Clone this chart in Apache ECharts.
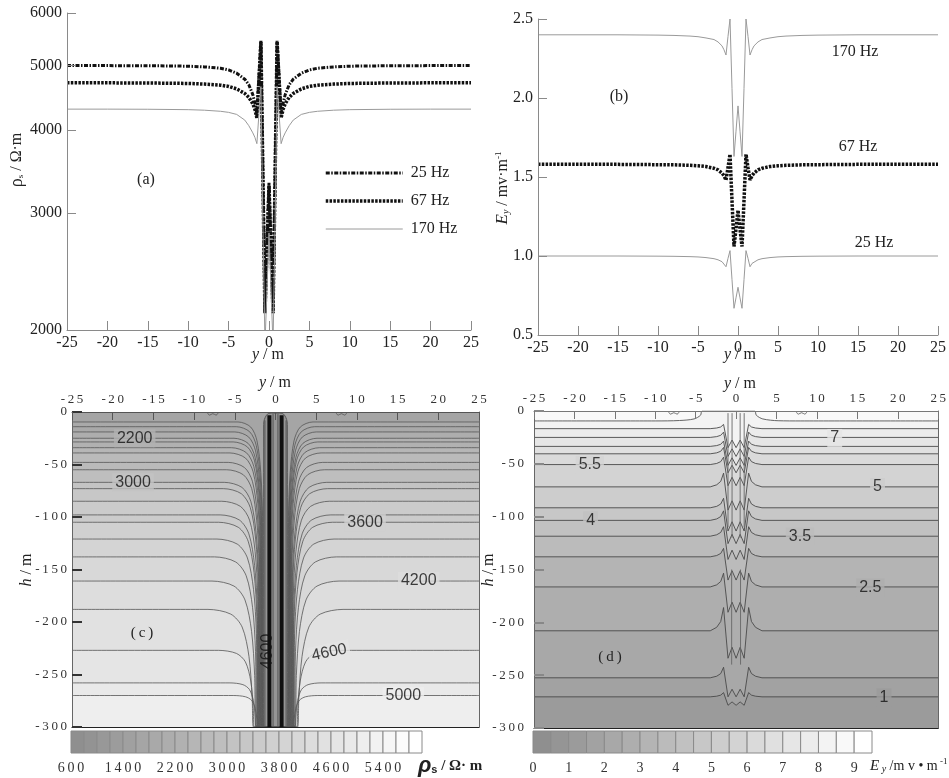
<!DOCTYPE html>
<html>
<head>
    <meta charset="utf-8">
    <title>Apparent resistivity and Ey</title>
    <script src="https://cdn.jsdelivr.net/npm/echarts@6.0.0/dist/echarts.min.js"></script>
    <style>
        body { margin: 0; background: #fff; }
        #main { width: 949px; height: 778px; }
    </style>
</head>
<body>
    <div id="main"></div>
<script type="text/javascript">
    var SERIF = "'Liberation Serif', 'DejaVu Serif', serif";
    var SANS = "'Liberation Sans', 'DejaVu Sans', sans-serif";

    // (a)/(b) surface profiles along y (m)
    var yProfile = [-25, -20, -15, -10, -8, -6, -5, -4, -3, -2.5, -2, -1.75, -1.5, -1.25, -1, -0.75, -0.5, -0.25, 0,
        0.25, 0.5, 0.75, 1, 1.25, 1.5, 1.75, 2, 2.5, 3, 4, 5, 6, 8, 10, 15, 20, 25];
    var rho25 = [5000, 5000, 4998, 4990, 4978, 4955, 4925, 4870, 4770, 4680, 4520, 4390, 4230, 4800, 5450, 3400, 2130, 2660, 3330,
        2660, 2130, 3400, 5450, 4800, 4230, 4390, 4520, 4680, 4770, 4870, 4925, 4955, 4978, 4990, 4998, 5000, 5000];
    var rho67 = [4710, 4710, 4708, 4700, 4690, 4672, 4652, 4612, 4540, 4480, 4380, 4300, 4170, 4750, 5430, 3380, 2120, 2650, 3300,
        2650, 2120, 3380, 5430, 4750, 4170, 4300, 4380, 4480, 4540, 4612, 4652, 4672, 4690, 4700, 4708, 4710, 4710];
    var rho170 = [4300, 4300, 4298, 4292, 4284, 4268, 4252, 4222, 4140, 4060, 3960, 3900, 3815, 4220, 4650, 2850, 1900, 2300, 2800,
        2300, 1900, 2850, 4650, 4220, 3815, 3900, 3960, 4060, 4140, 4222, 4252, 4268, 4284, 4292, 4298, 4300, 4300];
    var ey170 = [2.40, 2.40, 2.40, 2.398, 2.396, 2.392, 2.388, 2.38, 2.37, 2.355, 2.33, 2.305, 2.272, 2.39, 2.50, 2.06, 1.63, 1.79, 1.95,
        1.79, 1.63, 2.06, 2.50, 2.39, 2.272, 2.305, 2.33, 2.355, 2.37, 2.38, 2.388, 2.392, 2.396, 2.398, 2.40, 2.40, 2.40];
    var ey67 = [1.58, 1.58, 1.58, 1.578, 1.577, 1.574, 1.571, 1.566, 1.555, 1.545, 1.525, 1.508, 1.481, 1.56, 1.644, 1.35, 1.06, 1.17, 1.29,
        1.17, 1.06, 1.35, 1.644, 1.56, 1.481, 1.508, 1.525, 1.545, 1.555, 1.566, 1.571, 1.574, 1.577, 1.578, 1.58, 1.58, 1.58];
    var ey25 = [1.0, 1.0, 1.0, 0.999, 0.998, 0.996, 0.994, 0.99, 0.983, 0.976, 0.964, 0.953, 0.932, 0.985, 1.034, 0.85, 0.669, 0.735, 0.802,
        0.735, 0.669, 0.85, 1.034, 0.985, 0.932, 0.953, 0.964, 0.976, 0.983, 0.99, 0.994, 0.996, 0.998, 0.999, 1.0, 1.0, 1.0];
    var rhoTicks = [2000, 3000, 4000, 5000, 6000];

    // (c) rho_s section: far-field depth of each contour, its level, where it starts to bend, where it meets the bottom
    var depthsC = [-9.5, -14, -19, -25, -28.5, -34, -39, -48, -55, -67, -73, -85, -98, -105, -121, -138, -161, -188, -227, -258, -270];
    var levelsC = [1800, 1900, 2000, 2200, 2300, 2400, 2500, 2700, 2800, 3000, 3100, 3300, 3500, 3600, 3800, 4000, 4200, 4400, 4600, 4800, 5000];
    var bendC = [4.6, 4.8, 5.0, 5.1, 5.2, 5.4, 5.6, 5.8, 6.0, 6.3, 6.4, 6.6, 6.8, 7.0, 7.2, 7.5, 7.8, 8.3, 7.0, 5.6, 5.2];
    var footC = [1.5, 1.55, 1.6, 1.65, 1.7, 1.75, 1.8, 1.85, 1.9, 1.95, 2.0, 2.05, 2.1, 2.15, 2.2, 2.3, 2.4, 2.7, 2.6, 2.4, 2.2];
    var columnC = [[-1.45, -300], [-1.45, -12], [-1.1, -3], [-0.5, -1], [0.5, -1], [1.1, -3], [1.45, -12], [1.45, -300]];
    var colLinesC = [[-1.3, -8, -300], [-0.75, -3, -300], [-0.3, -2, -300], [0.3, -2, -300], [0.75, -3, -300], [1.3, -8, -300]];
    var labelsC = [[-17.3, -25, '2200', 0], [-17.5, -67, '3000', 0], [11.0, -105.5, '3600', 0], [17.6, -161, '4200', 0],
        [6.6, -229, '4600', 12], [15.7, -270.5, '5000', 0], [-1.0, -228, '4600', 90]];

    // (d) Ey section
    var topLineD = [[-25, -9.4], [-10, -9.4], [-7, -9.0], [-5.2, -7.5], [-4.4, -4], [-4.2, 0], [2.3, 0], [2.5, -4], [3.3, -7.5], [5.2, -9.2], [8, -9.4], [25, -9.4]];
    var topLevelD = 8;
    var depthsD = [-16.7, -25, -33.5, -40.5, -50.7, -71.8, -91.6, -103.5, -118.5, -138, -166.5, -208, -252.5, -270.5];
    var levelsD = [7.5, 7, 6.5, 6, 5.5, 5, 4.5, 4, 3.5, 3, 2.5, 2, 1.5, 1];
    var riseD = [4, 5, 5, 6, 7, 13, 9, 9, 9, 8, 13, 22, 10, 4];
    var dipD = [18, 18, 18, 18, 20, 22, 22, 22, 22, 22, 24, 26, 18, 8];
    var colLinesD = [[-1.0, -2, -110], [-0.5, -2, -120], [0.5, -2, -120], [1.0, -2, -110], [-0.55, -150, -240], [0.55, -150, -240]];
    var labelsD = [[12.2, -25.5, '7'], [-18.1, -51, '5.5'], [17.5, -72, '5'], [-18, -103.5, '4'], [7.9, -119, '3.5'], [16.6, -167, '2.5'], [18.3, -271, '1']];

    // small closed contours at the surface (both sections)
    var surfLoopL = [[-8.4, 0], [-8.1, -3], [-7.7, -1.6], [-7.3, -3], [-7.0, 0]];
    var surfLoopR = [[7.4, 0], [7.7, -3], [8.1, -1.6], [8.5, -3], [8.8, 0]];

    // colour bars
    var cbLevelsC = [600, 800, 1000, 1200, 1400, 1600, 1800, 2000, 2200, 2400, 2600, 2800, 3000, 3200, 3400, 3600, 3800,
        4000, 4200, 4400, 4600, 4800, 5000, 5200, 5400, 5600, 5800, 6000];
    var cbLabelsC = [600, 1400, 2200, 3000, 3800, 4600, 5400];
    var cbLevelsD = [0, 0.5, 1, 1.5, 2, 2.5, 3, 3.5, 4, 4.5, 5, 5.5, 6, 6.5, 7, 7.5, 8, 8.5, 9, 9.5];
    var cbLabelsD = [0, 1, 2, 3, 4, 5, 6, 7, 8, 9];

    function gray(k, n) {
        var g = Math.round(143 + k * 112 / (n - 1));
        return 'rgb(' + g + ',' + g + ',' + g + ')';
    }
    function colorC(v) { return gray(Math.floor((v - 600) / 200), cbLevelsC.length - 1); }
    function colorD(v) { return gray(Math.round(v * 2), cbLevelsD.length - 1); }
    function spaced(v) { return String(v).split('').join('\u2009'); }
    function bandBelowC(i) {
        return i < levelsC.length - 1 ? (levelsC[i] + levelsC[i + 1]) / 2 : levelsC[i] + 100;
    }
    function bandAtC(h) {
        var v = levelsC[0] - 100;
        for (var i = 0; i < depthsC.length; i++) if (depthsC[i] >= h - 1) v = bandBelowC(i);
        return colorC(v);
    }
    function bandAtD(h) {
        var v = topLevelD + 0.5;
        if (h < -9.4) v = topLevelD;
        for (var i = 0; i < depthsD.length; i++) if (depthsD[i] >= h - 1) v = levelsD[i];
        return colorD(v);
    }

    // contour path: flat far field, bends down into the conductive column
    function contourC(d, a, b) {
        var D = Math.min(300 + d, 120);
        var left = [[-25, d], [-a, d], [-(b + 0.5 * (a - b)), d - 0.04 * D], [-(b + 0.25 * (a - b)), d - 0.15 * D],
            [-(b + 0.1 * (a - b)), d - 0.4 * D], [-(b + 0.03 * (a - b)), d - 0.75 * D], [-b, -300]];
        var right = left.slice().reverse().map(function (p) { return [-p[0], p[1]]; });
        return left.concat(right);
    }
    // contour path for Ey: cusp up beside the column, V down inside it
    function contourD(d, r, g) {
        var left = [[-25, d], [-3.2, d], [-2.4, d + 0.15 * r], [-1.9, d + 0.4 * r], [-1.55, d + r],
            [-1.0, d - g], [-0.5, d - 0.6 * g], [0, d - g]];
        var right = left.slice(0, -1).reverse().map(function (p) { return [-p[0], p[1]]; });
        return left.concat(right);
    }

    var series = [];

    // ---- (a) ----
    function logPts(vals) { return yProfile.map(function (y, i) { return [y, Math.log10(vals[i])]; }); }
    series.push({ name: '25 Hz', type: 'line', xAxisIndex: 0, yAxisIndex: 0, symbol: 'none', data: logPts(rho25),
        itemStyle: { color: '#111' }, lineStyle: { color: '#111', width: 3, type: [4, 1.5, 1.5, 1.5] } });
    series.push({ name: '67 Hz', type: 'line', xAxisIndex: 0, yAxisIndex: 0, symbol: 'none', data: logPts(rho67),
        itemStyle: { color: '#111' }, lineStyle: { color: '#111', width: 3.5, type: [2.5, 1.3] } });
    series.push({ name: '170 Hz', type: 'line', xAxisIndex: 0, yAxisIndex: 0, symbol: 'none', data: logPts(rho170),
        itemStyle: { color: '#9a9a9a' }, lineStyle: { color: '#9a9a9a', width: 1 } });

    // ---- (b) ----
    function pts(vals) { return yProfile.map(function (y, i) { return [y, vals[i]]; }); }
    series.push({ name: 'Ey 170 Hz', type: 'line', xAxisIndex: 1, yAxisIndex: 1, symbol: 'none', data: pts(ey170),
        lineStyle: { color: '#9a9a9a', width: 1 } });
    series.push({ name: 'Ey 25 Hz', type: 'line', xAxisIndex: 1, yAxisIndex: 1, symbol: 'none', data: pts(ey25),
        lineStyle: { color: '#9a9a9a', width: 1 } });
    series.push({ name: 'Ey 67 Hz', type: 'line', xAxisIndex: 1, yAxisIndex: 1, symbol: 'none', data: pts(ey67),
        lineStyle: { color: '#111', width: 3.5, type: [2.5, 1.3] } });

    // ---- (c) ----
    depthsC.forEach(function (d, i) {
        series.push({ type: 'line', xAxisIndex: 2, yAxisIndex: 2, symbol: 'none', smooth: 0.3, silent: true,
            data: contourC(d, bendC[i], footC[i]),
            lineStyle: { color: '#555', width: 0.8 },
            areaStyle: { color: colorC(bandBelowC(i)), opacity: 1, origin: 'start' } });
    });
    series.push({ type: 'line', xAxisIndex: 2, yAxisIndex: 2, symbol: 'none', smooth: 0.4, silent: true, data: columnC,
        lineStyle: { color: '#555', width: 1 }, areaStyle: { color: '#959595', opacity: 1, origin: 'start' } });
    colLinesC.forEach(function (c) {
        var bold = Math.abs(c[0]) === 0.75;
        series.push({ type: 'line', xAxisIndex: 2, yAxisIndex: 2, symbol: 'none', silent: true,
            data: [[c[0], c[1]], [c[0], c[2]]],
            lineStyle: { color: bold ? '#111' : '#555', width: bold ? 4 : 1 } });
    });
    [surfLoopL, surfLoopR].forEach(function (l) {
        series.push({ type: 'line', xAxisIndex: 2, yAxisIndex: 2, symbol: 'none', smooth: 0.4, silent: true, data: l,
            lineStyle: { color: '#555', width: 0.8 } });
        series.push({ type: 'line', xAxisIndex: 3, yAxisIndex: 3, symbol: 'none', smooth: 0.4, silent: true, data: l,
            lineStyle: { color: '#555', width: 0.8 } });
    });
    series.push({ type: 'scatter', xAxisIndex: 2, yAxisIndex: 2, symbolSize: 0, silent: true, z: 6,
        itemStyle: { color: 'rgba(0,0,0,0)' },
        label: { show: true, position: 'inside', fontFamily: SANS, fontSize: 16, color: '#111', padding: [1, 3] },
        data: labelsC.map(function (l) {
            return { value: [l[0], l[1]], label: { formatter: l[2], rotate: l[3],
                backgroundColor: l[3] === 90 ? 'transparent' : bandAtC(l[1]) } };
        }) });

    // ---- (d) ----
    series.push({ type: 'line', xAxisIndex: 3, yAxisIndex: 3, symbol: 'none', smooth: 0.3, silent: true, data: topLineD,
        lineStyle: { color: '#555', width: 0.9 }, areaStyle: { color: colorD(topLevelD), opacity: 1, origin: 'start' } });
    depthsD.forEach(function (d, i) {
        series.push({ type: 'line', xAxisIndex: 3, yAxisIndex: 3, symbol: 'none', silent: true,
            data: contourD(d, riseD[i], dipD[i]),
            lineStyle: { color: '#4a4a4a', width: 0.9 },
            areaStyle: { color: colorD(levelsD[i]), opacity: 1, origin: 'start' } });
    });
    colLinesD.forEach(function (c) {
        series.push({ type: 'line', xAxisIndex: 3, yAxisIndex: 3, symbol: 'none', silent: true,
            data: [[c[0], c[1]], [c[0], c[2]]], lineStyle: { color: '#666', width: 0.9 } });
    });
    series.push({ type: 'scatter', xAxisIndex: 3, yAxisIndex: 3, symbolSize: 0, silent: true, z: 6,
        itemStyle: { color: 'rgba(0,0,0,0)' },
        label: { show: true, position: 'inside', fontFamily: SANS, fontSize: 16, color: '#111', padding: [1, 3] },
        data: labelsD.map(function (l) {
            return { value: [l[0], l[1]], label: { formatter: l[2], backgroundColor: bandAtD(l[1]) } };
        }) });

    // ---- colour bars ----
    function colorBar(levels, xi) {
        var data = [];
        for (var i = 0; i < levels.length - 1; i++) data.push([levels[i], levels[i + 1], i]);
        var n = levels.length - 1;
        return { type: 'custom', xAxisIndex: xi, yAxisIndex: xi, silent: true, encode: { x: [0, 1] }, data: data,
            renderItem: function (params, api) {
                var p0 = api.coord([api.value(0), 0]);
                var p1 = api.coord([api.value(1), 1]);
                return { type: 'rect',
                    shape: { x: p0[0], y: p1[1], width: p1[0] - p0[0], height: p0[1] - p1[1] },
                    style: { fill: gray(api.value(2), n), stroke: '#8a8a8a', lineWidth: 1 } };
            } };
    }
    series.push(colorBar(cbLevelsC, 4));
    series.push(colorBar(cbLevelsD, 5));

    // ---- axes ----
    function profileX(gi) {
        return { gridIndex: gi, type: 'value', min: -25, max: 25, interval: 5, z: 10,
            axisLine: { show: true, onZero: false, lineStyle: { color: '#8a8a8a' } },
            axisTick: { show: true, inside: true, length: 9, lineStyle: { color: '#8a8a8a' } },
            axisLabel: { margin: 5, color: '#222', fontSize: 16, fontFamily: SERIF },
            splitLine: { show: false } };
    }
    function sectionX(gi, col) {
        return { gridIndex: gi, type: 'value', position: 'top', min: -25, max: 25, interval: 5, z: 10,
            axisLine: { show: true, onZero: false, lineStyle: { color: col } },
            axisTick: { show: true, inside: true, length: 8, lineStyle: { color: col } },
            axisLabel: { margin: 6, color: '#333', fontSize: 13, fontFamily: SERIF, formatter: spaced },
            splitLine: { show: false } };
    }
    function frameX(gi) {
        return { gridIndex: gi, type: 'value', position: 'bottom', min: -25, max: 25, z: 10,
            axisLine: { show: true, onZero: false, lineStyle: { color: '#222', width: 1.2 } },
            axisTick: { show: false }, axisLabel: { show: false }, splitLine: { show: false } };
    }
    function frameY(gi) {
        return { gridIndex: gi, type: 'value', position: 'right', min: -300, max: 0, z: 10,
            axisLine: { show: true, onZero: false, lineStyle: { color: '#666' } },
            axisTick: { show: false }, axisLabel: { show: false }, splitLine: { show: false } };
    }
    function sectionY(gi, col, margin) {
        return { gridIndex: gi, type: 'value', min: -300, max: 0, interval: 50, z: 10,
            axisLine: { show: true, onZero: false, lineStyle: { color: '#666' } },
            axisTick: { show: true, inside: true, length: 10, lineStyle: { color: col, width: 2 } },
            axisLabel: { margin: margin, color: '#333', fontSize: 13, fontFamily: SERIF, formatter: spaced },
            splitLine: { show: false } };
    }
    function barX(gi, levels, labels, fmt) {
        return { gridIndex: gi, type: 'value', min: levels[0], max: levels[levels.length - 1], z: 10,
            axisLine: { show: false }, axisTick: { show: false }, splitLine: { show: false },
            axisLabel: { customValues: labels, margin: 8, color: '#333', fontSize: 14, fontFamily: SERIF, formatter: fmt } };
    }
    function barY(gi) {
        return { gridIndex: gi, type: 'value', min: 0, max: 1, show: false };
    }

    var rhoTickPos = rhoTicks.map(function (v) { return Math.log10(v); });

    var xAxes = [profileX(0), profileX(1), sectionX(2, '#555'), sectionX(3, '#777'),
        barX(4, cbLevelsC, cbLabelsC, spaced), barX(5, cbLevelsD, cbLabelsD, function (v) { return String(v); }),
        frameX(2), frameX(3)];
    var yAxes = [
        { gridIndex: 0, type: 'value', min: Math.log10(2000), max: Math.log10(6000), z: 10,
            axisLine: { show: true, onZero: false, lineStyle: { color: '#8a8a8a' } },
            axisTick: { show: true, inside: true, length: 9, customValues: rhoTickPos, lineStyle: { color: '#8a8a8a' } },
            axisLabel: { customValues: rhoTickPos, margin: 5, color: '#222', fontSize: 16, fontFamily: SERIF,
                formatter: function (v) { return String(Math.round(Math.pow(10, v) / 10) * 10); } },
            splitLine: { show: false } },
        { gridIndex: 1, type: 'value', min: 0.5, max: 2.5, interval: 0.5, z: 10,
            axisLine: { show: true, onZero: false, lineStyle: { color: '#8a8a8a' } },
            axisTick: { show: true, inside: true, length: 9, lineStyle: { color: '#8a8a8a' } },
            axisLabel: { margin: 5, color: '#222', fontSize: 16, fontFamily: SERIF,
                formatter: function (v) { return v.toFixed(1); } },
            splitLine: { show: false } },
        sectionY(2, '#333', 5), sectionY(3, '#888', 10), barY(4), barY(5), frameY(2), frameY(3)];

    // ---- texts ----
    function txt(x, y, text, style, rot) {
        return { type: 'text', x: x, y: y, z: 100, rotation: rot || 0,
            style: Object.assign({ text: text, fill: '#222', fontFamily: SERIF, fontSize: 16,
                align: 'center', verticalAlign: 'middle' }, style || {}) };
    }
    var yRich = { i: { fontStyle: 'italic', fontSize: 16, fontFamily: SERIF }, t: { fontSize: 16, fontFamily: SERIF } };
    var graphics = [
        txt(17, 160, '{r|ρ}{s|s}{t| / Ω·m}', { rich: {
            r: { fontSize: 18, fontFamily: SERIF }, s: { fontSize: 9, fontFamily: SERIF, padding: [7, 0, 0, 0] },
            t: { fontSize: 16, fontFamily: SERIF } } }, Math.PI / 2),
        txt(268, 355, '{i|y}{t| / m}', { rich: yRich }),
        txt(146, 180, '(a)'),
        txt(619, 97, '(b)'),
        txt(855, 52, '170 Hz'),
        txt(858, 147, '67 Hz'),
        txt(874, 243, '25 Hz'),
        txt(503, 188, '{e|E}{s|y}{t| / mv·m}{p|-1}', { rich: {
            e: { fontStyle: 'italic', fontSize: 17, fontFamily: SERIF },
            s: { fontStyle: 'italic', fontSize: 10, fontFamily: SERIF, padding: [7, 0, 0, 0] },
            t: { fontSize: 16, fontFamily: SERIF }, p: { fontSize: 9, fontFamily: SERIF, padding: [0, 0, 8, 0] } } }, Math.PI / 2),
        txt(740, 355, '{i|y}{t| / m}', { rich: yRich }),
        txt(275, 383, '{i|y}{t| / m}', { rich: yRich }),
        txt(740, 384, '{i|y}{t| / m}', { rich: yRich }),
        txt(27, 570, '{i|h}{t| / m}', { rich: yRich }, Math.PI / 2),
        txt(489, 570, '{i|h}{t| / m}', { rich: yRich }, Math.PI / 2),
        txt(142, 633, '(\u2009c\u2009)', { fontSize: 15 }),
        txt(610, 657, '(\u2009d\u2009)', { fontSize: 15 }),
        txt(418, 766, '{r|ρ}{s|s}{t| / Ω· m}', { align: 'left', rich: {
            r: { fontSize: 22, fontStyle: 'italic', fontWeight: 'bold', fontFamily: SANS },
            s: { fontSize: 11, fontWeight: 'bold', fontFamily: SANS, padding: [8, 0, 0, 0] },
            t: { fontSize: 15, fontWeight: 'bold', fontFamily: SERIF } } }),
        txt(870, 766, '{e|E}{s| y}{t| /m v • m}{p| -1}', { align: 'left', rich: {
            e: { fontStyle: 'italic', fontSize: 15, fontFamily: SERIF },
            s: { fontStyle: 'italic', fontSize: 10, fontFamily: SERIF, padding: [7, 0, 0, 0] },
            t: { fontSize: 14, fontFamily: SERIF }, p: { fontSize: 9, fontFamily: SERIF, padding: [0, 0, 8, 0] } } })
    ];

    var myChart = echarts.init(document.getElementById('main'));
    var option = {
        animation: false,
        backgroundColor: '#ffffff',
        textStyle: { fontFamily: SERIF },
        legend: {
            orient: 'vertical', left: 319, top: 159, itemWidth: 77, itemHeight: 10, itemGap: 10,
            selectedMode: false,
            itemStyle: { opacity: 0, borderWidth: 0 },
            textStyle: { fontFamily: SERIF, fontSize: 16, color: '#222', lineHeight: 18, padding: [0, 0, 0, 3] },
            data: [
                { name: '25 Hz', itemStyle: { opacity: 0, color: 'transparent', borderWidth: 0 },
                    lineStyle: { color: '#111', width: 3, type: [4, 1.5, 1.5, 1.5] } },
                { name: '67 Hz', itemStyle: { opacity: 0, color: 'transparent', borderWidth: 0 },
                    lineStyle: { color: '#111', width: 3.5, type: [2.5, 1.3] } },
                { name: '170 Hz', itemStyle: { opacity: 0, color: 'transparent', borderWidth: 0 },
                    lineStyle: { color: '#9a9a9a', width: 1 } }
            ]
        },
        grid: [
            { left: 67, top: 13, width: 404, height: 317 },
            { left: 538, top: 19, width: 404, height: 316 },
            { left: 72, top: 412, width: 407, height: 315, show: true, borderWidth: 0,
                backgroundColor: colorC(levelsC[0] - 100) },
            { left: 534, top: 411, width: 407, height: 317, show: true, borderWidth: 0,
                backgroundColor: colorD(topLevelD + 0.5) },
            { left: 71, top: 731, width: 351, height: 22 },
            { left: 533, top: 731, width: 339, height: 22 }
        ],
        xAxis: xAxes,
        yAxis: yAxes,
        graphic: graphics,
        series: series
    };
    if (option && typeof option === "object") {
        myChart.setOption(option, true);
    }
</script>
</body>
</html>
